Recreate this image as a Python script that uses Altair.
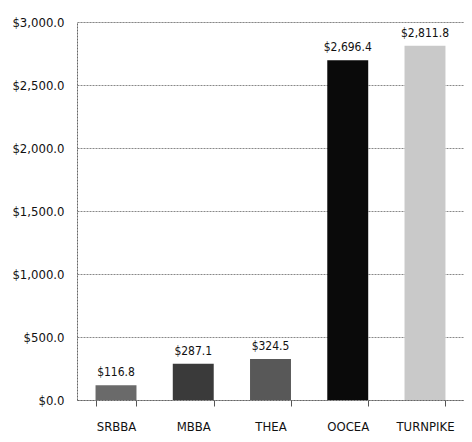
import altair as alt
import pandas as pd

categories = ["SRBBA", "MBBA", "THEA", "OOCEA", "TURNPIKE"]
values = [116.8, 287.1, 324.5, 2696.4, 2811.8]
colors = ["#6a6a6a", "#3a3a3a", "#585858", "#0a0a0a", "#c9c9c9"]

df = pd.DataFrame({"cat": categories, "val": values, "col": colors})

FONT = "DejaVu Sans Condensed, sans-serif"

x = alt.X("cat:N", sort=categories, title=None,
          scale=alt.Scale(paddingInner=0.47, paddingOuter=0.24),
          axis=alt.Axis(labelAngle=0, labelFontSize=13, labelColor="#111", labelFont=FONT,
                        labelPadding=14, tickBand="extent", tickSize=6, tickColor="#555",
                        domainColor="#666", domainDash=[2, 1]))
y = alt.Y("val:Q", title=None,
          scale=alt.Scale(domain=[0, 3000], nice=False),
          axis=alt.Axis(values=[0, 500, 1000, 1500, 2000, 2500, 3000], format="$,.1f",
                        labelFontSize=13, labelColor="#111", labelFont=FONT, labelPadding=13,
                        ticks=False, gridDash=[2, 1], gridColor="#888", domainColor="#666",
                        domainDash=[2, 1]))

bars = alt.Chart(df).mark_bar().encode(x=x, y=y, color=alt.Color("col:N", scale=None))
text = alt.Chart(df).mark_text(dy=-13, fontSize=12, font=FONT, color="#111").encode(
    x=alt.X("cat:N", sort=categories), y="val:Q", text=alt.Text("val:Q", format="$,.1f"))

chart = (bars + text).properties(
    width=387, height=378,
    autosize=alt.AutoSizeParams(type="none"),
    padding={"left": 69, "top": 14, "right": 0, "bottom": 34},
).configure_view(stroke=None).configure(background="white")

chart.save("out.html", embed_options={"renderer": "svg", "actions": False})
